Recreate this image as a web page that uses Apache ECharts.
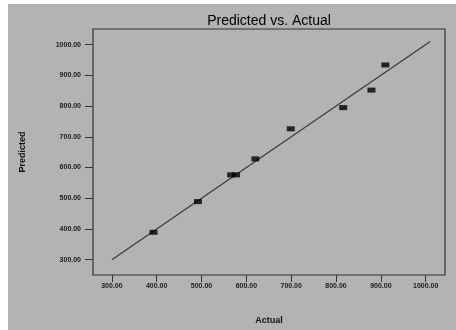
<!DOCTYPE html>
<html>
<head>
<meta charset="utf-8">
<script src="https://cdn.jsdelivr.net/npm/echarts@6/dist/echarts.min.js"></script>
<style>
  html, body { margin: 0; padding: 0; background: #fff; }
  #chart { position: absolute; left: 8px; top: 4px; width: 448px; height: 326px; background: #b3b3b3; }
</style>
</head>
<body>
<div id="chart"></div>
<script>
// values
const actual = [393, 492, 566, 577, 620, 699, 816, 879, 910];
const predicted = [389, 489, 576, 576, 628, 726, 795, 852, 934];
const fitLine = [[300, 300], [1010, 1010]];
const tickValues = [300, 400, 500, 600, 700, 800, 900, 1000];

const chart = echarts.init(document.getElementById("chart"));

const labelStyle = {
  color: "#1a1a1a",
  fontSize: 7,
  fontWeight: "bold",
  fontFamily: "Liberation Sans",
  formatter: (v) => Number(v).toFixed(2),
};

chart.setOption({
  backgroundColor: "#b3b3b3",
  animation: false,
  title: {
    text: "Predicted vs. Actual",
    left: 256,
    top: 5,
    textAlign: "center",
    textStyle: { fontSize: 14, fontWeight: "normal", color: "#000", fontFamily: "Liberation Sans" },
  },
  grid: {
    left: 85, top: 25, right: 11, bottom: 53,
    show: true,
    backgroundColor: "transparent",
    borderColor: "#333",
    borderWidth: 1.2,
  },
  xAxis: {
    type: "value",
    min: 258,
    max: 1043,
    name: "Actual",
    nameLocation: "middle",
    nameGap: 41,
    nameTextStyle: { fontSize: 9, fontWeight: "bold", color: "#111", fontFamily: "Liberation Sans" },
    axisLine: { show: false },
    axisTick: { show: true, length: 7, customValues: tickValues, lineStyle: { color: "#333" } },
    axisLabel: Object.assign({ customValues: tickValues, margin: 8 }, labelStyle),
    splitLine: { show: false },
  },
  yAxis: {
    type: "value",
    min: 250,
    max: 1051,
    name: "Predicted",
    nameLocation: "middle",
    nameGap: 66,
    nameRotate: 90,
    nameTextStyle: { fontSize: 9, fontWeight: "bold", color: "#111", fontFamily: "Liberation Sans" },
    axisLine: { show: false },
    axisTick: { show: true, length: 8, customValues: tickValues, lineStyle: { color: "#333" } },
    axisLabel: Object.assign({ customValues: tickValues, margin: 12 }, labelStyle),
    splitLine: { show: false },
  },
  series: [
    {
      type: "line",
      data: fitLine,
      showSymbol: false,
      lineStyle: { color: "#3a3a3a", width: 1.2 },
      z: 2,
    },
    {
      type: "scatter",
      data: actual.map((a, i) => [a, predicted[i]]),
      symbol: "rect",
      symbolSize: [8, 5],
      itemStyle: { color: "#000" },
      z: 3,
    },
  ],
});
</script>
</body>
</html>
